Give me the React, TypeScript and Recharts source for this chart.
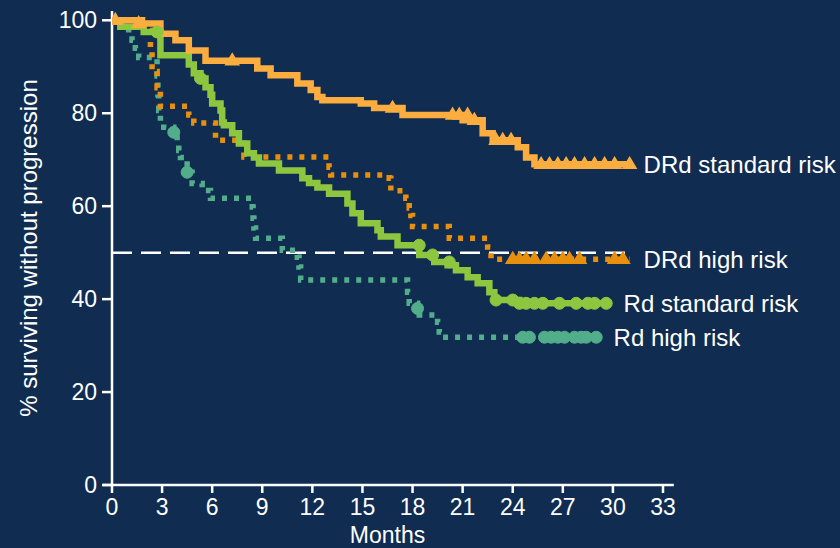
import {
  ComposedChart,
  Line,
  Scatter,
  XAxis,
  YAxis,
  ReferenceLine,
  Label,
} from "recharts";

const monthTicks = [0, 3, 6, 9, 12, 15, 18, 21, 24, 27, 30, 33];
const pctTicks = [0, 20, 40, 60, 80, 100];

// DRd standard risk
const drdStdT = [0, 1.8, 2.9, 3.8, 4.6, 5.6, 8.7, 9.5, 11.1, 11.9, 12.3, 12.6, 14.9, 15.7, 17.4, 21.0, 22.2, 22.8, 24.3, 24.8, 25.3, 31.0];
const drdStdS = [100, 99.3, 97.1, 95.7, 93.5, 91.3, 89.6, 88.2, 86.4, 85.0, 83.5, 82.8, 82.1, 81.1, 79.6, 78.5, 75.7, 74.2, 72.7, 70.5, 69.0, 69.0];
const drdStdCensT = [0.2, 1.6, 7.2, 16.8, 20.4, 20.8, 21.3, 21.7, 23.0, 23.4, 23.9, 25.7, 26.2, 26.7, 27.2, 27.7, 28.3, 28.9, 29.5, 30.1, 31.0];
const drdStdCensS = [100, 99.3, 91.3, 81.1, 79.6, 79.6, 79.6, 78.5, 74.2, 74.2, 74.2, 69, 69, 69, 69, 69, 69, 69, 69, 69, 69];

// DRd high risk
const drdHighT = [0, 1.5, 1.9, 2.3, 2.4, 2.7, 2.9, 4.6, 4.9, 6.2, 7.9, 13.0, 13.1, 16.6, 16.7, 17.6, 17.8, 17.9, 18.0, 20.2, 22.5, 22.7, 31.0];
const drdHighS = [100, 98.5, 97.8, 94, 89, 85.5, 81.5, 79.6, 77.9, 74.2, 70.6, 68.4, 66.7, 66.0, 63.3, 61.7, 59.6, 58.0, 55.6, 53.1, 51.2, 48.6, 48.6];
const drdHighCensT = [24.0, 24.4, 24.8, 25.3, 26.0, 26.5, 27.0, 27.4, 28.0, 30.1, 30.6];
const drdHighCensS = [48.6, 48.6, 48.6, 48.6, 48.6, 48.6, 48.6, 48.6, 48.6, 48.6, 48.6];

// Rd standard risk
const rdStdT = [0, 0.5, 1.9, 2.9, 4.6, 4.9, 5.3, 5.6, 5.9, 6.0, 6.5, 6.6, 6.7, 7.2, 7.6, 8.1, 8.5, 8.8, 10.0, 11.4, 11.8, 12.3, 13.0, 14.1, 14.4, 14.9, 15.9, 16.1, 17.1, 18.4, 19.3, 20.1, 20.6, 21.3, 21.9, 22.6, 22.9, 24.4, 29.8];
const rdStdS = [100, 98.6, 97.5, 92.5, 90.5, 88.6, 87.5, 85.6, 84, 82.1, 80.6, 78, 77.4, 75.7, 73.5, 71.4, 70.5, 69.2, 67.7, 66, 65, 64, 62.7, 60.6, 58.5, 56.3, 54.8, 53.5, 51.6, 49.5, 48, 47.3, 46.2, 44.7, 43.4, 41.5, 39.8, 39.1, 39.1];
const rdStdCensT = [2.7, 5.3, 18.4, 19.2, 20.2, 23.0, 24.0, 24.4, 24.8, 25.3, 25.8, 26.8, 27.8, 28.5, 28.9, 29.6];
const rdStdCensS = [97.5, 87.5, 51.6, 49.5, 48, 39.8, 39.8, 39.1, 39.1, 39.1, 39.1, 39.1, 39.1, 39.1, 39.1, 39.1];

// Rd high risk
const rdHighT = [0, 0.6, 1.0, 1.2, 1.4, 1.6, 2.7, 2.75, 2.8, 2.9, 3.1, 3.7, 3.9, 4.0, 4.1, 4.5, 4.8, 5.4, 5.9, 8.4, 8.45, 8.5, 8.6, 10.2, 11.1, 11.2, 11.3, 17.7, 17.8, 18.3, 18.4, 19.5, 19.6, 19.8, 29.2];
const rdHighS = [100, 98.5, 97, 95.7, 94, 92, 88, 84, 80.6, 78, 77, 75.9, 74, 72, 70.5, 67.3, 64.9, 63.4, 61.7, 59.8, 57.4, 55.3, 53.1, 50.5, 49, 46.9, 44.1, 41.5, 39.1, 38, 36.6, 35, 32.9, 31.8, 31.8];
const rdHighCensT = [3.7, 4.5, 18.3, 24.6, 25.0, 25.9, 26.3, 26.7, 27.1, 27.7, 28.1, 28.4, 29.0];
const rdHighCensS = [75.9, 67.3, 38, 31.8, 31.8, 31.8, 31.8, 31.8, 31.8, 31.8, 31.8, 31.8, 31.8];

const pairs = (t: number[], s: number[]) => t.map((v, i) => ({ t: v, s: s[i] }));

const drdStd = pairs(drdStdT, drdStdS);
const drdHigh = pairs(drdHighT, drdHighS);
const rdStd = pairs(rdStdT, rdStdS);
const rdHigh = pairs(rdHighT, rdHighS);

const BG = "#102C50";
const FONT = "'Liberation Sans', Arial, sans-serif";

const C_DRD_STD = "#FBAD3F";
const C_DRD_HIGH = "#E8900D";
const C_RD_STD = "#8DC63F";
const C_RD_HIGH = "#52AE8A";

const endLabel = (name: string, n: number) => (p: any) =>
  p.index === n - 1 ? (
    <text
      x={p.x + 14}
      y={p.y}
      dominantBaseline="central"
      fill="#fff"
      fontSize={24}
      fontFamily={FONT}
    >
      {name}
    </text>
  ) : (
    <g />
  );

const triangle = (fill: string, stroke: string) => (p: any) => (
  <path
    d={`M${p.cx},${p.cy - 7} L${p.cx + 6.5},${p.cy + 4} L${p.cx - 6.5},${p.cy + 4} Z`}
    fill={fill}
    stroke={stroke}
    strokeWidth={1.5}
  />
);

const dot = (fill: string, r: number) => (p: any) => (
  <circle cx={p.cx} cy={p.cy} r={r} fill={fill} stroke={fill} strokeWidth={1} />
);

export default function App() {
  return (
    <div
      style={{
        position: "absolute",
        left: 0,
        top: 0,
        width: 840,
        height: 548,
        background: BG,
      }}
    >
      <ComposedChart
        width={840}
        height={548}
        margin={{ top: 11, right: 177, bottom: 0, left: 0 }}
        style={{ fontFamily: FONT }}
      >
        <XAxis
          dataKey="t"
          type="number"
          domain={[0, 33]}
          ticks={monthTicks}
          interval={0}
          allowDataOverflow
          height={63}
          axisLine={false}
          tickLine={{ stroke: "#fff", strokeWidth: 2.5 }}
          tickSize={8}
          tickMargin={6}
          tick={{ fill: "#fff", fontSize: 23 }}
        >
          <Label
            value="Months"
            position="insideBottom"
            offset={5}
            fill="#fff"
            fontSize={23}
          />
        </XAxis>
        <YAxis
          type="number"
          domain={[0, 102]}
          ticks={pctTicks}
          interval={0}
          width={112}
          axisLine={{ stroke: "#fff", strokeWidth: 2.5 }}
          tickLine={{ stroke: "#fff", strokeWidth: 2.5 }}
          tickSize={10}
          tickMargin={5}
          tick={{ fill: "#fff", fontSize: 23 }}
        >
          <Label
            value="% surviving without progression"
            angle={-90}
            position="insideLeft"
            offset={28}
            fill="#fff"
            fontSize={24}
            style={{ textAnchor: "middle" }}
          />
        </YAxis>

        <ReferenceLine
          segment={[
            { x: -0.55, y: 0 },
            { x: 33.65, y: 0 },
          ]}
          stroke="#fff"
          strokeWidth={2.5}
          ifOverflow="visible"
        />
        <ReferenceLine
          segment={[
            { x: 0, y: 50 },
            { x: 30.8, y: 50 },
          ]}
          stroke="#fff"
          strokeWidth={2.5}
          strokeDasharray="20 9"
        />

        <Line
          data={rdHigh}
          dataKey="s"
          type="stepAfter"
          stroke={C_RD_HIGH}
          strokeWidth={5.5}
          strokeDasharray="5 7"
          dot={false}
          isAnimationActive={false}
          label={endLabel("Rd high risk", rdHigh.length)}
        />
        <Scatter
          data={pairs(rdHighCensT, rdHighCensS)}
          dataKey="s"
          shape={dot(C_RD_HIGH, 6)}
          isAnimationActive={false}
        />

        <Line
          data={drdHigh}
          dataKey="s"
          type="stepAfter"
          stroke={C_DRD_HIGH}
          strokeWidth={5.5}
          strokeDasharray="5 7"
          dot={false}
          isAnimationActive={false}
          label={endLabel("DRd high risk", drdHigh.length)}
        />
        <Scatter
          data={pairs(drdHighCensT, drdHighCensS)}
          dataKey="s"
          shape={triangle(C_DRD_HIGH, C_DRD_HIGH)}
          isAnimationActive={false}
        />

        <Line
          data={rdStd}
          dataKey="s"
          type="stepAfter"
          stroke={C_RD_STD}
          strokeWidth={6.5}
          dot={false}
          isAnimationActive={false}
          label={endLabel("Rd standard risk", rdStd.length)}
        />
        <Scatter
          data={pairs(rdStdCensT, rdStdCensS)}
          dataKey="s"
          shape={dot(C_RD_STD, 6)}
          isAnimationActive={false}
        />

        <Line
          data={drdStd}
          dataKey="s"
          type="stepAfter"
          stroke={C_DRD_STD}
          strokeWidth={6.5}
          dot={false}
          isAnimationActive={false}
          label={endLabel("DRd standard risk", drdStd.length)}
        />
        <Scatter
          data={pairs(drdStdCensT, drdStdCensS)}
          dataKey="s"
          shape={triangle(C_DRD_STD, C_DRD_STD)}
          isAnimationActive={false}
        />
      </ComposedChart>
    </div>
  );
}
